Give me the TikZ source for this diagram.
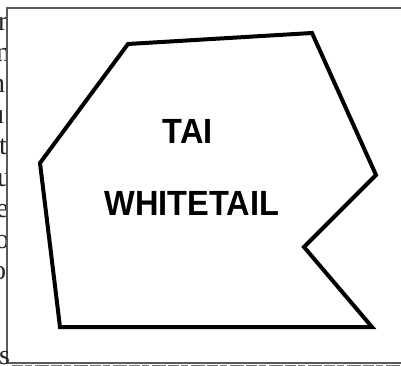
\documentclass[tikz,border=0pt]{standalone}
\usepackage{fontspec}
\usepackage{graphicx}
\setmainfont{Liberation Serif}
\newfontfamily\hdfont{Liberation Sans}
\tikzset{
  bgtxt/.style={anchor=base west, inner sep=0pt, font=\fontsize{28}{30}\selectfont, text=black!85},
  framecol/.style={draw=black!65, line width=1.4pt},
  shapeline/.style={draw=black, line width=4pt, line join=miter},
  label/.style={inner sep=0pt, font=\hdfont\bfseries\fontsize{35}{40}\selectfont}
}
\begin{document}
\begin{tikzpicture}[x=1pt,y=-1pt]
\useasboundingbox (0,0) rectangle (401,366);
\clip (0,0) rectangle (401,366);
% clipped background text on the left
\node[bgtxt] (l1) at (-2,31) {r};
\node[bgtxt] (l2) at (-4,62) {n};
\node[bgtxt] (l3) at (-9,93) {n};
\node[bgtxt] (l4) at (-10,124) {u};
\node[bgtxt] (l5) at (-1,155) {t};
\node[bgtxt] (l6) at (-3,186) {u};
\node[bgtxt] (l7) at (-4,217) {e};
\node[bgtxt] (l8) at (-5,248) {o};
\node[bgtxt] (l9) at (-8,279) {o:};
% bottom strip of clipped text
\draw[black!55, line width=2pt, dash pattern=on 11pt off 2pt on 7pt off 3pt on 14pt off 2pt] (12,365.6) -- (401,365.6);
% frame
\fill[white] (7,8) rectangle (405,363);
\draw[framecol] (405,8) -- (7,8) -- (7,363) -- (405,363);
\node[bgtxt] (l10) at (-1,364) {s};
% outline shape
\draw[shapeline] (128,44) -- (312,33) -- (376,175) -- (304,247) -- (372,327) -- (60,327) -- (40,163) -- cycle;
% labels
\node[label] (tai) at (188,131) {\scalebox{0.93}[1]{TAI}};
\node[label] (wt) at (192,203) {\scalebox{0.93}[1]{WHITETAIL}};
\end{tikzpicture}
\end{document}
